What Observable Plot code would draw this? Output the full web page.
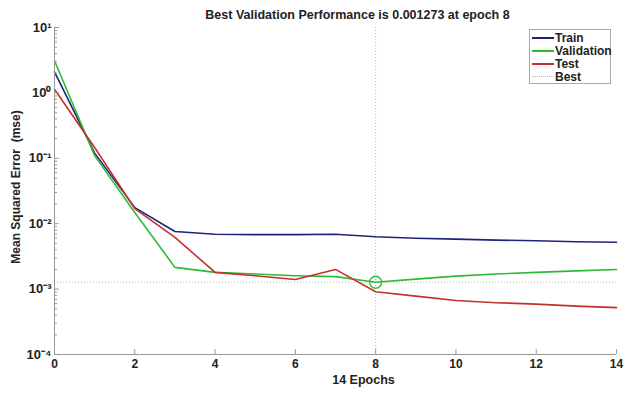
<!DOCTYPE html>
<html>
<head>
<meta charset="utf-8">
<script src="https://cdn.jsdelivr.net/npm/d3@7"></script>
<script src="https://cdn.jsdelivr.net/npm/@observablehq/plot@0.6"></script>
<style>
  html, body { margin: 0; padding: 0; background: #fff; }
  #wrap { position: relative; width: 626px; height: 394px; font-family: "Liberation Sans", Arial, sans-serif; }
  #legend { position: absolute; left: 529px; top: 29px; width: 82px; height: 55px; border: 1px solid #aaa; background: #fff; box-sizing: border-box; font-weight: bold; font-size: 12px; color: #222; }
  #legend .row { position: absolute; left: 2px; height: 13px; display: flex; align-items: center; }
  #legend .sw { width: 22px; height: 0; margin-right: 1px; }
</style>
</head>
<body>
<div id="wrap"><div id="legend"></div></div>
<script>
const epochs = [0, 1, 2, 3, 4, 5, 6, 7, 8, 9, 10, 11, 12, 13, 14];
const train = [2.1, 0.12, 0.0176, 0.0076, 0.0069, 0.0068, 0.0068, 0.0069, 0.0063, 0.0060, 0.0058, 0.0056, 0.0055, 0.0053, 0.0052];
const validation = [3.1, 0.11, 0.0148, 0.00215, 0.0018, 0.0017, 0.0016, 0.00155, 0.001273, 0.00142, 0.00158, 0.0017, 0.0018, 0.0019, 0.00199];
const test = [1.14, 0.146, 0.017, 0.0062, 0.0018, 0.0016, 0.0014, 0.002, 0.00091, 0.00078, 0.00067, 0.00062, 0.00059, 0.00055, 0.00052];
const seriesNames = ["Train", "Validation", "Test"];
const seriesColors = ["#1c237a", "#2dbb35", "#c5302c"];
const bestEpoch = 8;
const bestValue = 0.001273;
const xTicks = [0, 2, 4, 6, 8, 10, 12, 14];
const yTicks = [1e-4, 1e-3, 1e-2, 1e-1, 1, 10];
const yTickLabels = ["10⁻⁴", "10⁻³", "10⁻²", "10⁻¹", "10⁰", "10¹"];
const titleText = "Best Validation Performance is 0.001273 at epoch 8";
const xLabel = "14 Epochs";
const yLabel = "Mean Squared Error  (mse)";

const seriesValues = [train, validation, test];
const rows = [];
seriesNames.forEach((name, s) => epochs.forEach((e, i) => rows.push({series: name, epoch: e, mse: seriesValues[s][i]})));

const minorTicks = [];
for (let k = -4; k < 1; k++) for (let m = 2; m <= 9; m++) minorTicks.push(m * Math.pow(10, k));

const font = "Liberation Sans, Arial, sans-serif";
const chart = Plot.plot({
  width: 626,
  height: 394,
  marginLeft: 54,
  marginRight: 10,
  marginTop: 27,
  marginBottom: 40,
  style: {fontFamily: font, fontSize: "12px", fontWeight: "bold", color: "#222", background: "#fff"},
  x: {domain: [0, 14]},
  y: {type: "log", domain: [1e-4, 10]},
  color: {domain: seriesNames, range: seriesColors},
  marks: [
    Plot.ruleX([bestEpoch], {stroke: "#b8b8b8", strokeDasharray: "1,2", strokeWidth: 1}),
    Plot.ruleY([bestValue], {stroke: "#b8b8b8", strokeDasharray: "1,2", strokeWidth: 1}),
    Plot.line(rows, {x: "epoch", y: "mse", z: "series", stroke: "series", strokeWidth: 1.6}),
    Plot.dot([{epoch: bestEpoch, mse: bestValue}], {x: "epoch", y: "mse", r: 6, stroke: seriesColors[1], strokeWidth: 1.3, fill: "none"}),
    Plot.ruleX([0], {stroke: "#999", strokeWidth: 1}),
    Plot.ruleY([1e-4], {stroke: "#999", strokeWidth: 1}),
    Plot.axisY({ticks: minorTicks, tickSize: -3, tickFormat: () => "", stroke: "#999", label: null}),
    Plot.axisY({ticks: yTicks, tickSize: -5, tickPadding: 8, stroke: "#999", tickFormat: (d) => yTickLabels[yTicks.indexOf(d)], label: null, fontSize: 13, fill: "#222"}),
    Plot.axisX({ticks: xTicks, tickSize: -5, tickPadding: 10, stroke: "#999", tickFormat: d3.format("d"), label: null, fontSize: 12, fill: "#222"}),
    Plot.text([titleText], {frameAnchor: "top", dy: -17, fontSize: 12.5, fontWeight: "bold", fill: "#222", dx: 22}),
    Plot.text([xLabel], {frameAnchor: "bottom", dy: 29, fontSize: 12.5, fontWeight: "bold", fill: "#222", dx: 28}),
    Plot.text([yLabel], {frameAnchor: "left", textAnchor: "middle", dx: -38, rotate: -90, fontSize: 12, fontWeight: "bold", fill: "#222", dy: -4})
  ]
});
document.getElementById("wrap").prepend(chart);
chart.style.position = "absolute";
chart.style.left = "0";
chart.style.top = "0";

const legendNames = [...seriesNames, "Best"];
const legendStyles = [...seriesColors.map(c => `2px solid ${c}`), "1px dotted #b8b8b8"];
const legend = document.getElementById("legend");
legendNames.forEach((n, i) => {
  const row = document.createElement("div");
  row.className = "row";
  row.style.top = (1 + i * 13) + "px";
  const sw = document.createElement("span");
  sw.className = "sw";
  sw.style.borderTop = legendStyles[i];
  const t = document.createElement("span");
  t.textContent = n;
  row.append(sw, t);
  legend.append(row);
});
</script>
</body>
</html>
